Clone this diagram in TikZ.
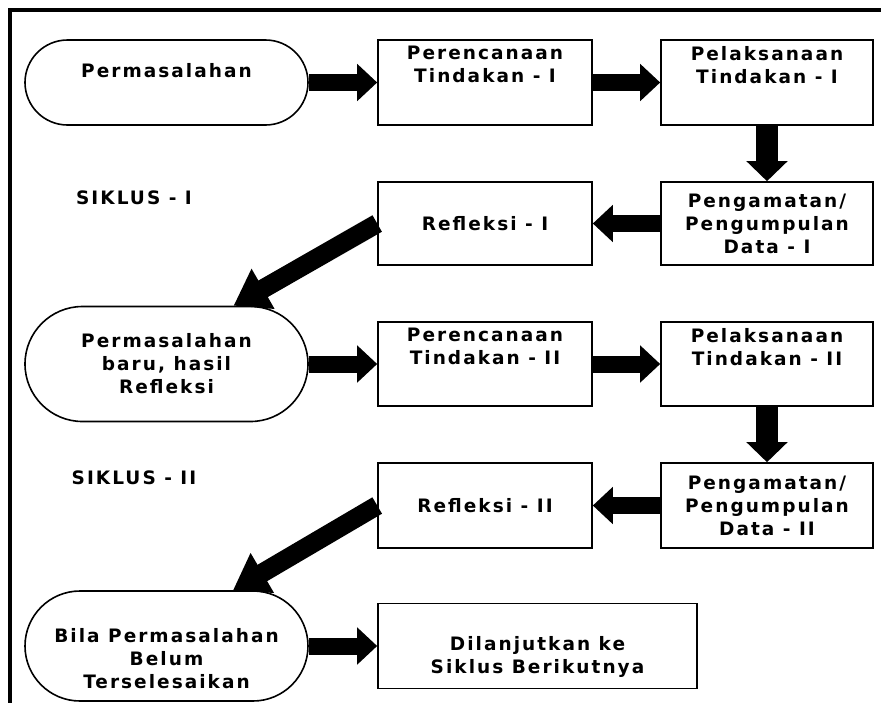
\documentclass[tikz,border=0pt]{standalone}
\usepackage{fontspec}
\setmainfont{DejaVu Sans}[LetterSpace=11]
\usetikzlibrary{arrows.meta,shapes.misc}
\newcommand{\toptext}[3][72pt]{\parbox[c][#1][t]{#2}{\centering #3}}

\tikzset{
	stepbox/.style={draw, line width=1.6pt, minimum width=214pt, minimum height=85pt, align=center, inner sep=0pt},
	problem/.style={draw, rounded rectangle, line width=1.6pt, minimum width=283pt, align=center, inner sep=0pt},
	flow/.style={line width=17pt, -{Triangle[width=36pt,length=20pt]}},
	drop/.style={line width=22pt, -{Triangle[width=40pt,length=20pt]}},
	back/.style={line width=19pt, -{Triangle[width=44pt,length=34pt]}},
}

\begin{document}
\begin{tikzpicture}[x=1pt, y=-1pt, every node/.style={font=\fontsize{18.5}{23}\selectfont\bfseries}]
			%%%%% START %%%%%
			\useasboundingbox (0, 0) rectangle (881, 702);
			\clip (0, 0) rectangle (881, 702);
			\draw[line width=4pt] (10, 10) rectangle (886, 708);
			
			\node[problem, minimum height=85pt] (perm1) at (166.5, 82.5) {\toptext[39pt]{250pt}{Permasalahan}};
			\node[stepbox] (ren1) at (485, 82.5) {\toptext{200pt}{Perencanaan\\Tindakan - I}};
			\node[stepbox, minimum width=212pt] (lak1) at (767, 82.5) {\toptext{200pt}{Pelaksanaan\\Tindakan - I}};
			
			\node (siklus1) at (134, 198) {SIKLUS - I};
			\node[stepbox, minimum height=83pt] (ref1) at (485, 223.5) {Refleksi - I};
			\node[stepbox, minimum width=212pt, minimum height=83pt] (amat1) at (767, 223.5) {Pengamatan/\\Pengumpulan\\Data - I};
			
			\node[problem, minimum height=115pt] (perm2) at (166.5, 364) {Permasalahan\\baru, hasil\\Refleksi};
			\node[stepbox, minimum height=84pt] (ren2) at (485, 364) {\toptext{200pt}{Perencanaan\\Tindakan - II}};
			\node[stepbox, minimum width=212pt, minimum height=84pt] (lak2) at (767, 364) {\toptext{200pt}{Pelaksanaan\\Tindakan - II}};
			
			\node (siklus2) at (134, 478) {SIKLUS - II};
			\node[stepbox] (ref2) at (485, 505.5) {Refleksi - II};
			\node[stepbox, minimum width=212pt] (amat2) at (767, 505.5) {Pengamatan/\\Pengumpulan\\Data - II};
			
			\node[problem, minimum height=110pt] (bila) at (166.5, 646) {\toptext[36pt]{250pt}{Bila Permasalahan\\Belum\\Terselesaikan}};
			\node[stepbox, minimum width=319pt] (lanjut) at (537.5, 646) {\toptext[20pt]{250pt}{Dilanjutkan ke\\Siklus Berikutnya}};
			
			% siklus I
			\draw[flow] (perm1.east) -- (ren1.west);
			\draw[flow] (ren1.east) -- (lak1.west);
			\draw[drop] (lak1.south) -- (amat1.north);
			\draw[flow] (amat1.west) -- (ref1.east);
			\draw[back] (ref1.west) -- (perm2.41);
			
			% siklus II
			\draw[flow] (perm2.east) -- (ren2.west);
			\draw[flow] (ren2.east) -- (lak2.west);
			\draw[drop] (lak2.south) -- (amat2.north);
			\draw[flow] (amat2.west) -- (ref2.east);
			\draw[back] (ref2.west) -- (bila.40);
			
			\draw[flow] (bila.east) -- (lanjut.west);
			%%%%% END %%%%%
\end{tikzpicture}
\end{document}
